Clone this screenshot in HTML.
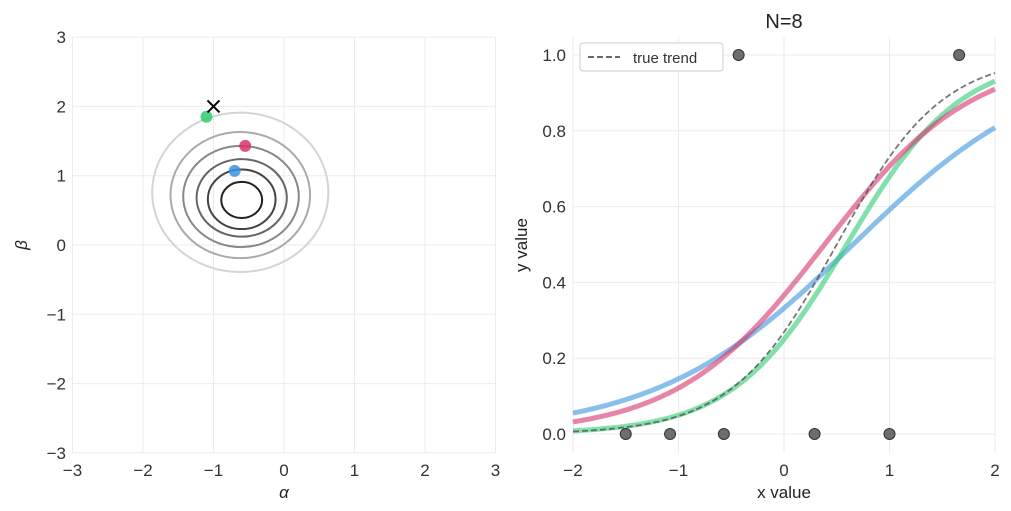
<!DOCTYPE html>
<html><head><meta charset="utf-8"><style>
body{margin:0;background:#fff;}
svg{display:block;font-family:"Liberation Sans","DejaVu Sans",sans-serif;}
</style></head><body>
<svg id="c" width="1011" height="511" viewBox="0 0 1011 511"></svg>
<script>
const leftTicks=[-3,-2,-1,0,1,2,3];
const rightXTicks=[-2,-1,0,1,2];
const rightYTicks=[0.0,0.2,0.4,0.6,0.8,1.0];
const contourCx=[-0.62,-0.62,-0.61,-0.6,-0.6,-0.6];
const contourCy=[0.76,0.72,0.70,0.68,0.66,0.65];
const contourRx=[1.25,0.99,0.82,0.64,0.48,0.29];
const contourRy=[1.15,0.91,0.73,0.56,0.43,0.26];
const contourColors=["#d4d4d4","#aaaaaa","#888888","#666666","#444444","#222222"];
const sampleAlpha=[-1.1,-0.55,-0.7];
const sampleBeta=[1.85,1.43,1.07];
const sampleColors=["#2ecc71","#d6336c","#3c94e0"];
const trueAlpha=-1, trueBeta=2;
const dataX=[-1.5,-1.08,-0.57,0.29,1.0,-0.43,1.66];
const dataY=[0,0,0,0,0,1,1];

const svg=document.getElementById('c');
const NS='http://www.w3.org/2000/svg';
function el(t,a,p){const e=document.createElementNS(NS,t);for(const k in a)e.setAttribute(k,a[k]);(p||svg).appendChild(e);return e;}
function txt(x,y,s,a){const e=el('text',Object.assign({x:x,y:y,fill:'#333','font-size':17},a));e.textContent=s;return e;}

// left axes
const lx=v=>284+v*70.5, ly=v=>245-v*69.3;
const gL=el('g',{});


leftTicks.forEach(t=>{
  el('line',{x1:lx(t),x2:lx(t),y1:37,y2:453,stroke:'#ebebeb'},gL);
  el('line',{x1:72,x2:495,y1:ly(t),y2:ly(t),stroke:'#ebebeb'},gL);
  const a=txt(lx(t),476,(t<0?'\u2212':'')+Math.abs(t),{'text-anchor':'middle'});
  
  const b=txt(66,ly(t)+6,(t<0?'\u2212':'')+Math.abs(t),{'text-anchor':'end'});
  
});
contourCx.forEach((cx,i)=>{
  const e=el('ellipse',{cx:lx(cx),cy:ly(contourCy[i]),rx:contourRx[i]*70.5,ry:contourRy[i]*69.3,fill:'none',stroke:contourColors[i],'stroke-width':2},gL);
  
});
sampleAlpha.forEach((a,i)=>{
  const e=el('circle',{cx:lx(a),cy:ly(sampleBeta[i]),r:6,fill:sampleColors[i],'fill-opacity':0.85},gL);
  
});
const cx0=lx(trueAlpha),cy0=ly(trueBeta);
const cr=el('path',{d:`M${cx0-6} ${cy0-6}L${cx0+6} ${cy0+6}M${cx0+6} ${cy0-6}L${cx0-6} ${cy0+6}`,stroke:'#000','stroke-width':2},gL);

let t1=txt(284,498,'\u03b1',{'text-anchor':'middle','font-style':'italic',fill:'#222'});

let t2=txt(27,245,'\u03b2',{'text-anchor':'middle','font-style':'italic',fill:'#222',transform:'rotate(-90 27 245)'});


// right axes
const rx=v=>784+v*105.5, ry=v=>434-v*379;
const gR=el('g',{});


rightXTicks.forEach(t=>{
  el('line',{x1:rx(t),x2:rx(t),y1:37,y2:453,stroke:'#ebebeb'},gR);
  const a=txt(rx(t),476,(t<0?'\u2212':'')+Math.abs(t),{'text-anchor':'middle'});
  
});
rightYTicks.forEach(t=>{
  el('line',{x1:573,x2:995,y1:ry(t),y2:ry(t),stroke:'#ebebeb'},gR);
  const a=txt(566,ry(t)+6,t.toFixed(1),{'text-anchor':'end'});
  
});
const sig=z=>1/(1+Math.exp(-z));
function curve(a,b){let d='';for(let i=0;i<=200;i++){const x=-2+4*i/200;d+=(i?'L':'M')+rx(x).toFixed(1)+' '+ry(sig(a+b*x)).toFixed(1);}return d;}
const order=[2,0,1];
order.forEach(i=>{
  const p=el('path',{d:curve(sampleAlpha[i],sampleBeta[i]),fill:'none',stroke:sampleColors[i],'stroke-opacity':0.6,'stroke-width':5},gR);
  
});
const tp=el('path',{d:curve(trueAlpha,trueBeta),fill:'none',stroke:'#555','stroke-opacity':0.8,'stroke-width':1.8,'stroke-dasharray':'6 3'},gR);

dataX.forEach((x,i)=>{
  const c=el('circle',{cx:rx(x),cy:ry(dataY[i]),r:5.5,fill:'#555','fill-opacity':0.85,stroke:'#333','stroke-width':1},gR);
  
});
const lg=el('g',{},gR);

el('rect',{x:580,y:43,width:143,height:28,rx:3,fill:'#fff',stroke:'#ccc'},lg);
el('line',{x1:588,x2:620,y1:57,y2:57,stroke:'#555','stroke-width':1.8,'stroke-dasharray':'6 3'},lg);
const lt=txt(633,63,'true trend',{'font-size':15});

let t3=txt(784,28,'N=8',{'text-anchor':'middle','font-size':20,fill:'#222'});

let t4=txt(784,498,'x value',{'text-anchor':'middle',fill:'#222'});

let t5=txt(527,245,'y value',{'text-anchor':'middle',fill:'#222',transform:'rotate(-90 527 245)'});

</script>
</body></html>
